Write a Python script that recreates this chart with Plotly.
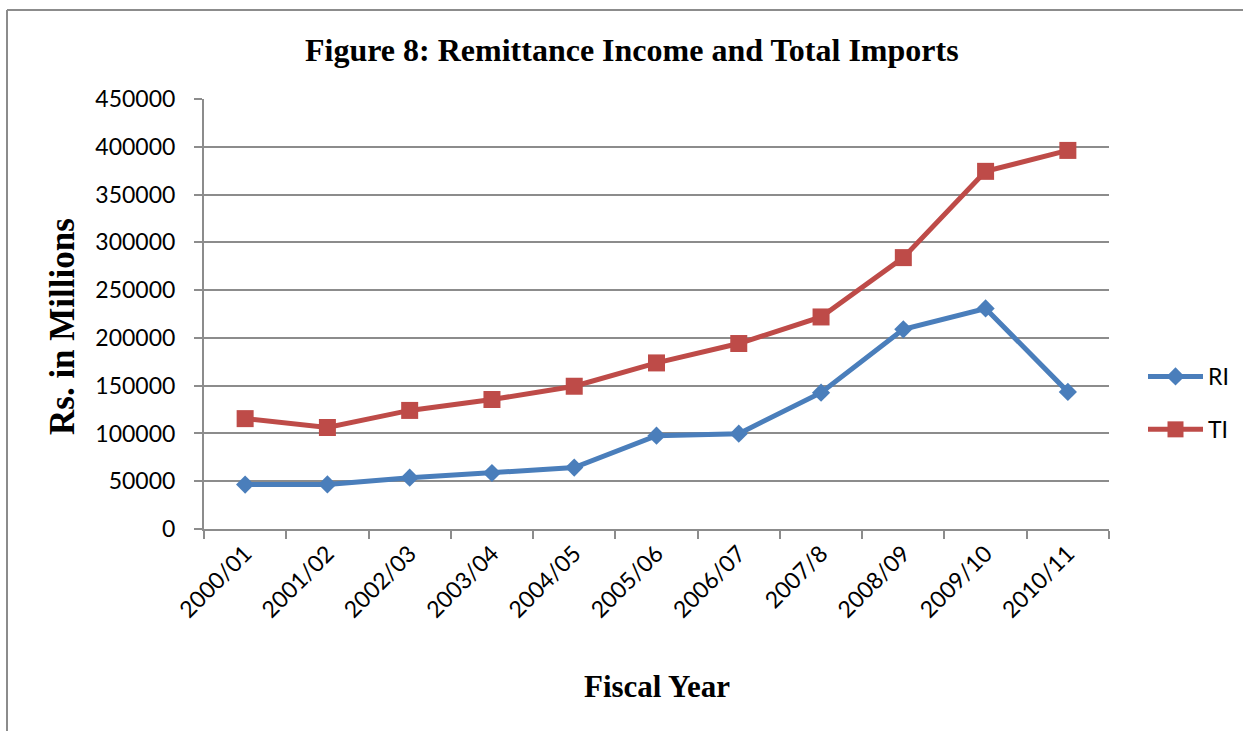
import plotly.graph_objects as go

# Fiscal years on the category axis
years = ["2000/01", "2001/02", "2002/03", "2003/04", "2004/05", "2005/06",
         "2006/07", "2007/8", "2008/09", "2009/10", "2010/11"]

# Remittance income (Rs. in millions)
ri = [46500, 46600, 53700, 58600, 64300, 97700, 99800, 142700, 209000, 230800, 143500]

# Total imports (Rs. in millions)
ti = [115500, 106200, 124100, 135500, 149400, 173800, 194100, 221900, 284000, 374300, 396200]

W, H = 1243, 731
L, R, T, B = 204, 1109, 99, 529   # plot area edges in pixels

BLUE = "#4A7EBB"
RED = "#BE4B48"
GRID = "#8C8C8C"
TICK_FONT = dict(family="Lato, Open Sans, sans-serif", size=23, color="#000000")
TITLE_FONT = "Liberation Serif, Times New Roman, serif"


def px_x(x):
    return (x - L) / (R - L)


def px_y(y):
    return (B - y) / (B - T)


fig = go.Figure()
fig.add_trace(go.Scatter(
    x=years, y=ri, name="RI", mode="lines+markers", legendgroup="ri",
    line=dict(color=BLUE, width=5),
    marker=dict(symbol="diamond", size=14, color=BLUE),
))
fig.add_trace(go.Scatter(
    x=years, y=ti, name="TI", mode="lines+markers", legendgroup="ti",
    line=dict(color=RED, width=5),
    marker=dict(symbol="square", size=17, color=RED),
))

fig.update_layout(
    width=W, height=H,
    margin=dict(l=L, r=W - R, t=T, b=H - B, pad=0, autoexpand=False),
    paper_bgcolor="white", plot_bgcolor="white",
    showlegend=True,
    legend=dict(
        x=px_x(1143), y=px_y(403), xanchor="left", yanchor="middle",
        font=TICK_FONT, itemwidth=55, traceorder="grouped",
        tracegroupgap=20, bgcolor="rgba(0,0,0,0)",
    ),
    xaxis=dict(
        type="category", range=[-0.5, len(years) - 0.5],
        tickson="boundaries", ticks="outside", ticklen=8, tickwidth=2,
        tickcolor=GRID, showline=True, linecolor=GRID, linewidth=2,
        showgrid=False, tickangle=-45, tickfont=TICK_FONT, zeroline=False,
        automargin=False,
    ),
    yaxis=dict(
        range=[0, 450000], dtick=50000, tickformat="d",
        ticks="outside", ticklen=8, tickwidth=2, tickcolor=GRID,
        showline=True, linecolor=GRID, linewidth=2,
        showgrid=True, gridcolor=GRID, gridwidth=2,
        tickfont=TICK_FONT, zeroline=False, ticklabelstandoff=14,
        automargin=False,
    ),
    annotations=[
        dict(text="<b>Figure 8: Remittance Income and Total Imports</b>",
             x=px_x(632), y=px_y(50), xref="paper", yref="paper",
             showarrow=False, xanchor="center", yanchor="middle",
             font=dict(family=TITLE_FONT, size=32, color="#000000")),
        dict(text="<b>Rs. in Millions</b>", textangle=-90,
             x=px_x(62), y=px_y(327), xref="paper", yref="paper",
             showarrow=False, xanchor="center", yanchor="middle",
             font=dict(family=TITLE_FONT, size=35, color="#000000")),
        dict(text="<b>Fiscal Year</b>",
             x=px_x(657), y=px_y(686), xref="paper", yref="paper",
             showarrow=False, xanchor="center", yanchor="middle",
             font=dict(family=TITLE_FONT, size=31, color="#000000")),
    ],
    shapes=[
        # outer chart frame (top and left edges)
        dict(type="line", xref="paper", yref="paper",
             x0=px_x(7), x1=px_x(W + 5), y0=px_y(10), y1=px_y(10),
             line=dict(color="#8C8C8C", width=2)),
        dict(type="line", xref="paper", yref="paper",
             x0=px_x(7), x1=px_x(7), y0=px_y(10), y1=px_y(H + 5),
             line=dict(color="#8C8C8C", width=2)),
    ],
)

fig.write_html("out.html")
